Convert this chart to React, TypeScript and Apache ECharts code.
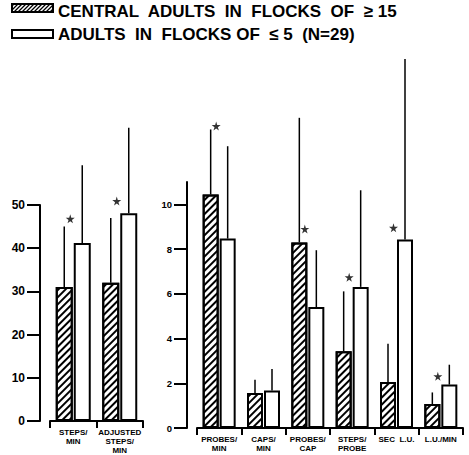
import React, { useEffect, useRef } from 'react';
import * as echarts from 'echarts';

// ---------- data ----------
const legendLabels = ['CENTRAL  ADULTS  IN  FLOCKS  OF  ≥ 15', 'ADULTS  IN  FLOCKS OF  ≤ 5  (N=29)'];

const leftCategories = ['STEPS/\nMIN', 'ADJUSTED\nSTEPS/\nMIN'];
const leftCentral = [31, 32];
const leftCentralUpper = [45, 47];
const leftSmall = [41.2, 48.1];
const leftSmallUpper = [59.2, 67.9];
const leftStars = [46.8, 50.9];
const leftTicks = [0, 10, 20, 30, 40, 50];

const rightCategories = ['PROBES/\nMIN', 'CAPS/\nMIN', 'PROBES/\nCAP', 'STEPS/\nPROBE', 'SEC  L.U.', 'L.U./MIN'];
const rightCentral = [10.44, 1.57, 8.3, 3.43, 2.06, 1.07];
const rightCentralUpper = [13.35, 2.16, 13.87, 6.11, 3.77, 1.59];
const rightSmall = [8.47, 1.68, 5.41, 6.31, 8.43, 1.94];
const rightSmallUpper = [12.6, 2.64, 7.95, 10.63, 16.5, 2.83];
const rightStars: (number | null)[] = [13.5, null, 8.9, 6.74, 8.95, 2.31];
const rightTicks = [0, 2, 4, 6, 8, 10];
const rightMinorTicks = [1, 3, 5, 7, 9, 11];

// ---------- styles ----------
const FONT = '"Liberation Sans", Arial, sans-serif';
const NARROW = '"Liberation Sans Narrow", "Liberation Sans", Arial, sans-serif';
const STAR = 'path://M50,0 L61,35 L98,35 L68,57 L79,91 L50,70 L21,91 L32,57 L2,35 L39,35 Z';

const hatch = {
  symbol: 'rect',
  symbolSize: 1,
  dashArrayX: [1, 0],
  dashArrayY: [1.1, 2.3],
  rotation: -Math.PI / 4,
  color: '#000',
  backgroundColor: '#fff',
};

const LEFT_BW = 17;
const LEFT_GAP = 1;
const RIGHT_BW = 16;
const RIGHT_GAP = 1;

function barSeries(name: string, data: number[], axis: number, yAxis: number, bw: number, gap: number, hatched: boolean) {
  return {
    name,
    type: 'bar',
    xAxisIndex: axis,
    yAxisIndex: yAxis,
    data,
    barWidth: bw,
    barGap: `${(gap / bw) * 100}%`,
    itemStyle: {
      color: '#fff',
      borderColor: '#000',
      borderWidth: 2,
      ...(hatched ? { decal: hatch } : {}),
    },
    z: 2,
  };
}

function whiskerSeries(mean: number[], upper: number[], axis: number, yAxis: number, side: number, bw: number, gap: number) {
  return {
    type: 'custom',
    xAxisIndex: axis,
    yAxisIndex: yAxis,
    clip: false,
    z: 3,
    data: mean.map((m, i) => [i, m, upper[i]]),
    renderItem: (_p: any, api: any) => {
      const base = api.coord([api.value(0), api.value(1)]);
      const top = api.coord([api.value(0), api.value(2)]);
      const x = base[0] + (side * (bw + gap)) / 2;
      return {
        type: 'line',
        shape: { x1: x, y1: base[1], x2: x, y2: top[1] },
        style: { stroke: '#000', lineWidth: 1.5 },
      };
    },
  };
}

function starSeries(stars: (number | null)[], axis: number, yAxis: number) {
  return {
    type: 'scatter',
    xAxisIndex: axis,
    yAxisIndex: yAxis,
    clip: false,
    symbol: STAR,
    symbolSize: 9,
    symbolOffset: [-3, 0],
    itemStyle: { color: '#000' },
    z: 4,
    data: stars.map((v, i) => (v == null ? null : [i, v])).filter((d) => d != null),
  };
}

function hatchLines(x0: number, y0: number, w: number, h: number, step: number) {
  const out: any[] = [];
  const bottom = y0 + h;
  for (let c = x0 - h + step / 2; c < x0 + w; c += step) {
    let sx = c, sy = bottom, ex = c + h, ey = y0;
    if (sx < x0) { sy = bottom - (x0 - sx); sx = x0; }
    if (ex > x0 + w) { ey = y0 + (ex - (x0 + w)); ex = x0 + w; }
    out.push({ type: 'line', shape: { x1: sx, y1: sy, x2: ex, y2: ey }, style: { stroke: '#000', lineWidth: 1.3 }, z: 10 });
  }
  return out;
}

function xAxisCfg(gridIndex: number, data: string[]) {
  return {
    type: 'category',
    gridIndex,
    data,
    axisLine: { show: true, lineStyle: { color: '#000', width: 2 } },
    axisTick: { show: true, length: 7, lineStyle: { color: '#000', width: 2 } },
    axisLabel: {
      interval: 0,
      color: '#000',
      fontSize: 8,
      fontWeight: 'bold',
      fontFamily: NARROW,
      lineHeight: 9,
      margin: 7,
    },
    splitLine: { show: false },
  };
}

const option: any = {
  animation: false,
  backgroundColor: '#fff',
  grid: [
    { left: 50, width: 93, top: 205, height: 223, containLabel: false },
    { left: 197, width: 266, top: 182, height: 246, containLabel: false },
  ],
  xAxis: [xAxisCfg(0, leftCategories), xAxisCfg(1, rightCategories)],
  yAxis: [
    {
      type: 'value',
      gridIndex: 0,
      min: 0,
      max: 50,
      interval: 10,
      offset: 10,
      axisLine: { show: true, lineStyle: { color: '#000', width: 2 } },
      axisTick: { show: true, length: 13, customValues: leftTicks, lineStyle: { color: '#000', width: 2 } },
      axisLabel: { color: '#000', fontSize: 12, fontWeight: 'bold', fontFamily: FONT, margin: 15, customValues: leftTicks },
      splitLine: { show: false },
    },
    {
      type: 'value',
      gridIndex: 1,
      min: 0,
      max: 11,
      interval: 1,
      offset: 10,
      axisLine: { show: true, lineStyle: { color: '#000', width: 2 } },
      axisTick: { show: true, length: 13, customValues: rightTicks, lineStyle: { color: '#000', width: 2 } },
      axisLabel: { color: '#000', fontSize: 9.5, fontWeight: 'bold', fontFamily: FONT, margin: 15, customValues: rightTicks },
      splitLine: { show: false },
    },
    {
      type: 'value',
      gridIndex: 1,
      min: 0,
      max: 11,
      interval: 1,
      offset: 10,
      axisLine: { show: false },
      axisTick: { show: true, length: 8, customValues: rightMinorTicks, lineStyle: { color: '#000', width: 2 } },
      axisLabel: { show: false },
      splitLine: { show: false },
    },
  ],
  graphic: [
    { type: 'rect', shape: { x: 12, y: 4, width: 41, height: 8 }, style: { fill: '#fff', stroke: '#000', lineWidth: 2 }, z: 9 },
    ...hatchLines(12, 4, 41, 8, 4),
    { type: 'rect', shape: { x: 12, y: 30, width: 41, height: 8 }, style: { fill: '#fff', stroke: '#000', lineWidth: 2 }, z: 9 },
    {
      type: 'text',
      x: 58,
      y: 11,
      style: { text: legendLabels[0], fill: '#000', font: `bold 17px ${FONT}`, verticalAlign: 'middle', align: 'left' },
    },
    {
      type: 'text',
      x: 58,
      y: 34,
      style: { text: legendLabels[1], fill: '#000', font: `bold 17px ${FONT}`, verticalAlign: 'middle', align: 'left' },
    },
  ],
  series: [
    barSeries('central', leftCentral, 0, 0, LEFT_BW, LEFT_GAP, true),
    barSeries('small', leftSmall, 0, 0, LEFT_BW, LEFT_GAP, false),
    whiskerSeries(leftCentral, leftCentralUpper, 0, 0, -1, LEFT_BW, LEFT_GAP),
    whiskerSeries(leftSmall, leftSmallUpper, 0, 0, 1, LEFT_BW, LEFT_GAP),
    starSeries(leftStars, 0, 0),
    barSeries('central', rightCentral, 1, 1, RIGHT_BW, RIGHT_GAP, true),
    barSeries('small', rightSmall, 1, 1, RIGHT_BW, RIGHT_GAP, false),
    whiskerSeries(rightCentral, rightCentralUpper, 1, 1, -1, RIGHT_BW, RIGHT_GAP),
    whiskerSeries(rightSmall, rightSmallUpper, 1, 1, 1, RIGHT_BW, RIGHT_GAP),
    starSeries(rightStars, 1, 1),
  ],
};

export default function App() {
  const ref = useRef<HTMLDivElement>(null);
  useEffect(() => {
    document.body.style.margin = '0';
    const chart = echarts.init(ref.current!, null, { renderer: 'svg' });
    chart.setOption(option);
    return () => chart.dispose();
  }, []);
  return <div ref={ref} style={{ width: 469, height: 455 }} />;
}
